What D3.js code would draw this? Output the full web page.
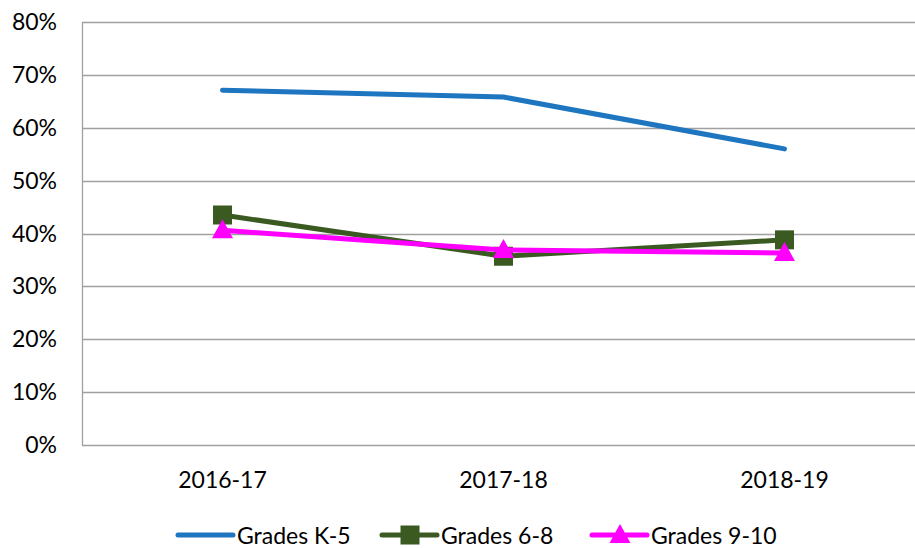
<!DOCTYPE html>
<html>
<head>
<meta charset="utf-8">
<script src="https://cdn.jsdelivr.net/npm/d3@7"></script>
<style>
  body { margin: 0; background: #fff; }
  text { font-family: Lato, "Open Sans", sans-serif; fill: #000; }
</style>
</head>
<body>
<svg width="915" height="548"></svg>
<script>
// Data
const years = ["2016-17", "2017-18", "2018-19"];
const gradesK5 = [0.671, 0.658, 0.560];
const grades68 = [0.435, 0.357, 0.388];
const grades910 = [0.406, 0.369, 0.363];
const yTicks = [0, 0.1, 0.2, 0.3, 0.4, 0.5, 0.6, 0.7, 0.8];

const series = [
    { name: "Grades K-5", values: gradesK5, color: "#1e75c0", marker: "none" },
    { name: "Grades 6-8", values: grades68, color: "#3a5a22", marker: "square" },
    { name: "Grades 9-10", values: grades910, color: "#ff00ff", marker: "triangle" },
];

const svg = d3.select("svg");
const plotLeft = 82, plotTop = 22, plotBottom = 445;

const x = d3.scaleBand().domain(years).range([plotLeft, plotLeft + 3 * 281]);
const y = d3.scaleLinear().domain([0, 0.8]).range([plotBottom, plotTop]);

// gridlines
svg.append("g")
    .selectAll("line")
    .data(yTicks)
    .enter()
    .append("line")
    .attr("x1", plotLeft)
    .attr("x2", 915)
    .attr("y1", d => Math.round(y(d)) + 0.5)
    .attr("y2", d => Math.round(y(d)) + 0.5)
    .attr("stroke", "#a0a0a0")
    .attr("stroke-width", 1.3);

// left axis line
svg.append("line")
    .attr("x1", plotLeft + 0.5).attr("x2", plotLeft + 0.5)
    .attr("y1", plotTop).attr("y2", plotBottom + 1)
    .attr("stroke", "#a0a0a0")
    .attr("stroke-width", 1.3);

// y labels
svg.append("g")
    .selectAll("text")
    .data(yTicks)
    .enter()
    .append("text")
    .attr("x", 57)
    .attr("y", d => y(d) + 8)
    .attr("text-anchor", "end")
    .style("font-size", "23px")
    .text(d => d3.format(".0%")(d));

// x labels
svg.append("g")
    .selectAll("text")
    .data(years)
    .enter()
    .append("text")
    .attr("x", d => x(d) + x.bandwidth() / 2)
    .attr("y", 488)
    .attr("text-anchor", "middle")
    .style("font-size", "23px")
    .text(d => d);

const line = d3.line()
    .x((d, i) => x(years[i]) + x.bandwidth() / 2)
    .y(d => y(d));

function drawMarker(g, type, color, cx, cy) {
    if (type === "square") {
        g.append("rect")
            .attr("x", cx - 9.5).attr("y", cy - 9.5)
            .attr("width", 19).attr("height", 19)
            .attr("fill", color);
    } else if (type === "triangle") {
        g.append("path")
            .attr("d", `M${cx},${cy - 11}L${cx + 10.5},${cy + 8}L${cx - 10.5},${cy + 8}Z`)
            .attr("fill", color);
    }
}

series.forEach(s => {
    const g = svg.append("g");
    g.append("path")
        .datum(s.values)
        .attr("d", line)
        .attr("fill", "none")
        .attr("stroke", s.color)
        .attr("stroke-width", 5)
        .attr("stroke-linecap", "round")
        .attr("stroke-linejoin", "round");
    s.values.forEach((v, i) => {
        drawMarker(g, s.marker, s.color, x(years[i]) + x.bandwidth() / 2, y(v));
    });
});

// Legend
const legendPos = [178, 382, 592];
series.forEach((s, i) => {
    const lx = legendPos[i], ly = 535;
    const g = svg.append("g");
    g.append("line")
        .attr("x1", lx).attr("x2", lx + 55)
        .attr("y1", ly).attr("y2", ly)
        .attr("stroke", s.color)
        .attr("stroke-width", 5)
        .attr("stroke-linecap", "round");
    drawMarker(g, s.marker, s.color, lx + 28, ly);
    g.append("text")
        .attr("x", lx + 59)
        .attr("y", ly + 9)
        .style("font-size", "23px")
        .text(s.name);
});
</script>
</body>
</html>
